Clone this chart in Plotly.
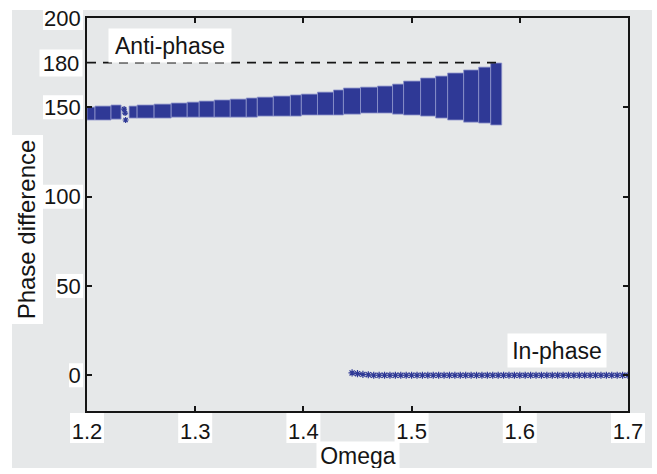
import plotly.graph_objects as go

# ---- data ----
# anti-phase band: blocks of solutions, each spanning an omega range
band_omega_start = [1.2000, 1.2074, 1.2222, 1.2389, 1.2463, 1.2620, 1.2778, 1.2926, 1.3037, 1.3176,
                    1.3324, 1.3472, 1.3574, 1.3722, 1.3880, 1.3981, 1.4130, 1.4278, 1.4370, 1.4528,
                    1.4685, 1.4824, 1.4926, 1.5083, 1.5222, 1.5333, 1.5481, 1.5620, 1.5731]
band_omega_end = [1.2074, 1.2222, 1.2315, 1.2463, 1.2620, 1.2778, 1.2926, 1.3037, 1.3176, 1.3324,
                  1.3472, 1.3574, 1.3722, 1.3880, 1.3981, 1.4130, 1.4278, 1.4370, 1.4528, 1.4685,
                  1.4824, 1.4926, 1.5083, 1.5222, 1.5333, 1.5481, 1.5620, 1.5731, 1.5833]
band_low = [142.9, 142.9, 143.4, 144.0, 144.0, 144.0, 144.5, 144.5, 144.5, 144.5,
            144.5, 144.5, 145.1, 145.1, 145.1, 145.7, 145.7, 145.7, 146.2, 146.8,
            146.8, 146.2, 145.7, 145.1, 144.0, 142.9, 141.7, 141.2, 140.1]
band_high = [150.1, 150.7, 151.3, 150.7, 151.3, 151.8, 152.4, 152.9, 153.5, 154.1,
             154.6, 155.2, 155.7, 156.3, 156.9, 157.4, 158.5, 159.7, 160.8, 161.3,
             161.9, 163.0, 164.7, 166.4, 167.5, 169.2, 170.9, 172.5, 174.8]

# isolated points in the small gap of the band
gap_omega = [1.2343, 1.2352, 1.2357]
gap_phase = [149.0, 146.8, 142.9]

# in-phase branch
inphase_omega = [1.445, 1.450, 1.455, 1.460, 1.465, 1.470, 1.475, 1.480, 1.485, 1.490,
                 1.495, 1.500, 1.505, 1.510, 1.515, 1.520, 1.525, 1.530, 1.535, 1.540,
                 1.545, 1.550, 1.555, 1.560, 1.565, 1.570, 1.575, 1.580, 1.585, 1.590,
                 1.595, 1.600, 1.605, 1.610, 1.615, 1.620, 1.625, 1.630, 1.635, 1.640,
                 1.645, 1.650, 1.655, 1.660, 1.665, 1.670, 1.675, 1.680, 1.685, 1.690,
                 1.695, 1.700]
inphase_phase = [1.3, 0.9, 0.5, 0.3, 0.0, 0.0, 0.0, 0.0, 0.0, 0.0,
                 0.0, 0.0, 0.0, 0.0, 0.0, 0.0, 0.0, 0.0, 0.0, 0.0,
                 0.0, 0.0, 0.0, 0.0, 0.0, 0.0, 0.0, 0.0, 0.0, 0.0,
                 0.0, 0.0, 0.0, 0.0, 0.0, 0.0, 0.0, 0.0, 0.0, 0.0,
                 0.0, 0.0, 0.0, 0.0, 0.0, 0.0, 0.0, 0.0, 0.0, 0.0,
                 0.0, 0.0]

# dashed anti-phase reference line (drawn where the picture shows it, labelled "180")
antiphase_omega = [1.2, 1.582]
antiphase_phase = [175.0, 175.0]

x_ticks = [1.2, 1.3, 1.4, 1.5, 1.6, 1.7]
y_ticks = [0, 50, 100, 150, 200]
x_range = [1.2, 1.7]
y_range = [-20, 200]

# ---- styling ----
BLUE = "#2f3996"
GRAY = "#e6e8e9"
INK = "#151515"
FONT = "Liberation Sans, Arial, Helvetica, sans-serif"

band_x = [(a + b) / 2 for a, b in zip(band_omega_start, band_omega_end)]
band_w = [b - a for a, b in zip(band_omega_start, band_omega_end)]
band_h = [h - l for l, h in zip(band_low, band_high)]

fig = go.Figure()
fig.add_trace(go.Bar(x=band_x, y=band_h, base=band_low, width=band_w,
                     marker=dict(color=BLUE, line=dict(color="#8f96cc", width=0.8)),
                     showlegend=False, hoverinfo="skip"))
fig.add_trace(go.Scatter(x=gap_omega, y=gap_phase, mode="markers",
                         marker=dict(symbol="asterisk-open", size=5, color=BLUE,
                                     line=dict(color=BLUE, width=1.2)),
                         showlegend=False))
fig.add_trace(go.Scatter(x=antiphase_omega, y=antiphase_phase, mode="lines",
                         line=dict(color=INK, width=1.6, dash="9px,7px"), showlegend=False))
fig.add_trace(go.Scatter(x=inphase_omega, y=inphase_phase, mode="markers",
                         marker=dict(symbol="asterisk-open", size=6, color=BLUE,
                                     line=dict(color=BLUE, width=1.2)),
                         showlegend=False))

W, H = 657, 474
ml, mr, mt, mb = 87, 29, 18, 63
pw, ph = W - ml - mr, H - mt - mb


def px_x(px):
    return (px - ml) / pw


def px_y(py):
    return (H - mb - py) / ph


shapes = [dict(type="rect", xref="paper", yref="paper", layer="below",
               x0=px_x(12), x1=px_x(652), y0=px_y(468), y1=px_y(10),
               fillcolor=GRAY, line=dict(width=0))]
for v in x_ticks:
    shapes.append(dict(type="rect", layer="below", xref="paper", yref="paper",
                       xsizemode="pixel", xanchor=(v - x_range[0]) / (x_range[1] - x_range[0]),
                       x0=-17, x1=17, ysizemode="pixel", yanchor=0, y0=-32, y1=-2,
                       fillcolor="white", line=dict(width=0)))
for v in y_ticks:
    wbox = 13 * len(str(v)) + 1
    shapes.append(dict(type="rect", layer="below", xref="paper", yref="paper",
                       xsizemode="pixel", xanchor=0, x0=-4 - wbox, x1=-4,
                       ysizemode="pixel", yanchor=(v - y_range[0]) / (y_range[1] - y_range[0]),
                       y0=-12, y1=12, fillcolor="white", line=dict(width=0)))

annotations = [
    dict(text="Anti-phase", x=1.2769, y=184.6, xref="x", yref="y", showarrow=False,
         xanchor="center", yanchor="middle",
         font=dict(size=23, color=INK, family=FONT), bgcolor="white", width=120, height=31),
    dict(text="In-phase", x=1.6343, y=13.7, xref="x", yref="y", showarrow=False,
         xanchor="center", yanchor="middle",
         font=dict(size=23, color=INK, family=FONT), bgcolor="white", width=96, height=31),
    dict(text="180", x=0, y=175, xref="paper", yref="y", xanchor="right", yanchor="middle",
         xshift=-4, showarrow=False, font=dict(size=22, color=INK, family=FONT),
         bgcolor="white", width=40, height=24),
    dict(text="Omega", x=0.5, y=px_y(455.5), xref="paper", yref="paper", showarrow=False,
         xanchor="center", yanchor="middle",
         font=dict(size=23, color=INK, family=FONT), bgcolor="white", width=80, height=25),
    dict(text="Phase difference", x=px_x(27), y=px_y(229.5), xref="paper", yref="paper",
         xanchor="center", yanchor="middle",
         showarrow=False, textangle=-90, font=dict(size=24, color=INK, family=FONT),
         bgcolor="white", width=186, height=30),
]

axis_common = dict(showgrid=False, zeroline=False, showline=True, linecolor=INK, linewidth=1.6,
                   mirror="ticks", ticks="inside", ticklen=5, tickwidth=1.5, tickcolor=INK,
                   tickfont=dict(size=22, color=INK, family=FONT))

fig.update_layout(
    width=W, height=H, margin=dict(l=ml, r=mr, t=mt, b=mb, autoexpand=False),
    paper_bgcolor="white", plot_bgcolor=GRAY, barmode="overlay",
    font=dict(family=FONT, color=INK),
    xaxis=dict(range=x_range, tickvals=x_ticks, ticktext=[f"{v:.1f}" for v in x_ticks],
               ticklabelstandoff=0, **axis_common),
    yaxis=dict(range=y_range, tickvals=y_ticks, ticklabelstandoff=0, **axis_common),
    shapes=shapes, annotations=annotations,
)

fig.write_html("out.html", config={"displayModeBar": False},
               post_script="document.body.style.margin='0';")
